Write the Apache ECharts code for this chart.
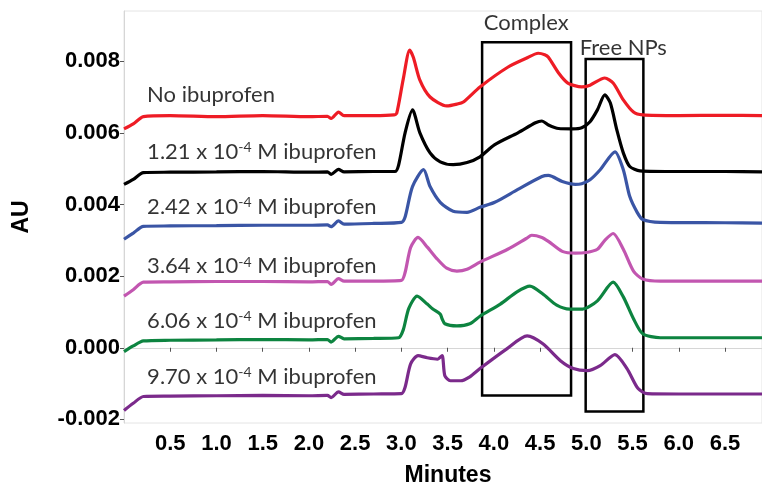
<!DOCTYPE html>
<html>
<head>
<meta charset="utf-8">
<script src="https://cdn.jsdelivr.net/npm/echarts@6/dist/echarts.min.js"></script>
<style>
  html, body { margin: 0; padding: 0; background: #fff; }
  #chart { width: 762px; height: 483px; }
</style>
</head>
<body>
<div id="chart"></div>
<script>
// tick labels
var xTicks = [0.5, 1.0, 1.5, 2.0, 2.5, 3.0, 3.5, 4.0, 4.5, 5.0, 5.5, 6.0, 6.5];
var yTicks = [-0.002, 0.000, 0.002, 0.004, 0.006, 0.008];

// traces: [minutes, AU]
var noIbuprofen = [[0,0.00611],[0.1,0.00625],[0.21,0.00645],[0.5,0.00648],[1.0,0.00645],[1.5,0.00648],[2.0,0.00645],[2.2,0.00646],[2.24,0.0064],[2.32,0.00658],[2.38,0.00648],[2.7,0.00648],[2.92,0.0065],[2.95,0.00655],[3.02,0.0075],[3.09,0.00831],[3.13,0.0081],[3.2,0.00747],[3.31,0.007],[3.49,0.00675],[3.6,0.0068],[3.67,0.00686],[3.85,0.00728],[4.15,0.00783],[4.35,0.00808],[4.48,0.00822],[4.55,0.00818],[4.59,0.00811],[4.7,0.00767],[4.8,0.00739],[4.95,0.00728],[5.04,0.00733],[5.2,0.00753],[5.29,0.00739],[5.4,0.00692],[5.51,0.00658],[5.61,0.0065],[6.0,0.00648],[6.5,0.00649],[6.9,0.00648]];
var ibu121 = [[0,0.00456],[0.1,0.0047],[0.21,0.00489],[0.5,0.0049],[1.0,0.00491],[1.5,0.00492],[2.0,0.0049],[2.2,0.00491],[2.24,0.00484],[2.32,0.00498],[2.38,0.00491],[2.7,0.00492],[2.93,0.00492],[2.97,0.0051],[3.04,0.006],[3.12,0.00664],[3.2,0.006],[3.31,0.00544],[3.42,0.00519],[3.56,0.00511],[3.71,0.00517],[3.85,0.00533],[4.01,0.00567],[4.26,0.006],[4.45,0.00628],[4.52,0.00633],[4.59,0.00622],[4.7,0.00612],[4.85,0.00611],[4.95,0.00614],[5.04,0.00631],[5.12,0.00664],[5.2,0.00706],[5.26,0.00683],[5.33,0.00608],[5.4,0.00544],[5.47,0.00506],[5.58,0.00494],[6.0,0.00492],[6.5,0.00492],[6.9,0.00491]];
var ibu242 = [[0,0.00303],[0.1,0.0032],[0.21,0.00339],[0.5,0.0034],[1.0,0.00341],[1.5,0.00342],[2.0,0.00342],[2.2,0.00343],[2.24,0.00338],[2.32,0.00354],[2.38,0.00345],[2.7,0.00347],[3.0,0.0035],[3.04,0.00365],[3.12,0.0045],[3.24,0.00497],[3.31,0.0045],[3.42,0.00406],[3.56,0.00381],[3.71,0.00378],[3.85,0.00392],[4.01,0.00406],[4.26,0.00442],[4.52,0.00478],[4.59,0.00481],[4.74,0.00464],[4.88,0.00456],[4.95,0.00458],[5.04,0.00469],[5.15,0.00497],[5.31,0.00547],[5.4,0.00497],[5.47,0.00422],[5.55,0.00378],[5.61,0.00358],[5.8,0.0035],[6.5,0.00349],[6.9,0.00348]];
var ibu364 = [[0,0.00144],[0.1,0.00162],[0.21,0.00183],[0.5,0.00184],[1.0,0.00185],[1.5,0.00185],[2.0,0.00184],[2.2,0.00185],[2.24,0.00177],[2.32,0.00193],[2.38,0.00186],[2.7,0.00186],[3.0,0.00188],[3.04,0.0021],[3.1,0.0028],[3.18,0.00308],[3.28,0.00281],[3.39,0.00247],[3.49,0.00222],[3.6,0.00214],[3.71,0.00219],[3.85,0.00239],[4.15,0.00275],[4.35,0.00305],[4.41,0.00314],[4.52,0.00308],[4.59,0.00297],[4.74,0.00269],[4.88,0.00264],[5.0,0.00266],[5.12,0.00275],[5.2,0.003],[5.29,0.00319],[5.4,0.00275],[5.51,0.00214],[5.61,0.00192],[5.8,0.00186],[6.5,0.00186],[6.9,0.00186]];
var ibu606 = [[0,-0.00011],[0.1,0.00005],[0.21,0.00019],[0.5,0.00021],[1.0,0.00022],[1.5,0.00023],[2.0,0.00022],[2.2,0.00023],[2.24,0.00016],[2.32,0.00032],[2.38,0.00025],[2.7,0.00026],[2.97,0.00028],[3.02,0.0005],[3.08,0.0011],[3.17,0.00144],[3.28,0.00122],[3.34,0.00108],[3.42,0.00094],[3.44,0.00081],[3.47,0.00067],[3.6,0.00061],[3.74,0.00067],[3.85,0.00088],[4.07,0.00122],[4.25,0.00156],[4.39,0.00172],[4.53,0.0015],[4.68,0.00119],[4.82,0.00108],[4.96,0.00108],[5.12,0.00131],[5.29,0.00183],[5.4,0.00142],[5.51,0.00081],[5.61,0.00039],[5.8,0.00028],[6.5,0.00028],[6.9,0.00028]];
var ibu970 = [[0,-0.00175],[0.1,-0.00155],[0.21,-0.00136],[0.5,-0.00135],[1.0,-0.00134],[1.5,-0.00133],[2.0,-0.00134],[2.2,-0.00133],[2.24,-0.00139],[2.32,-0.00123],[2.38,-0.0013],[2.7,-0.00129],[3.0,-0.00128],[3.04,-0.0011],[3.1,-0.00045],[3.18,-0.00022],[3.28,-0.00028],[3.39,-0.00032],[3.44,-0.00022],[3.47,-0.00078],[3.53,-0.00092],[3.64,-0.00092],[3.74,-0.00081],[3.85,-0.00058],[4.14,-0.00003],[4.36,0.00033],[4.53,0.00011],[4.72,-0.00036],[4.86,-0.00058],[5.01,-0.00064],[5.15,-0.0005],[5.31,-0.00019],[5.44,-0.00058],[5.56,-0.00114],[5.66,-0.00128],[6.0,-0.00129],[6.5,-0.00129],[6.9,-0.00129]];

var traceNames = ['No ibuprofen', '1.21 x 10{sup|-4} M ibuprofen', '2.42 x 10{sup|-4} M ibuprofen',
                  '3.64 x 10{sup|-4} M ibuprofen', '6.06 x 10{sup|-4} M ibuprofen', '9.70 x 10{sup|-4} M ibuprofen'];
var traceColors = ['#ee1c25', '#000000', '#3a55a5', '#c256b0', '#0d8440', '#7b2a8b'];
// where each trace name sits (minutes, AU)
var nameSpots = [[0.25,0.00706],[0.25,0.00547],[0.25,0.00394],[0.25,0.00228],[0.25,0.00075],[0.25,-0.00081]];

// boxes: [x0, yTop, x1, yBottom]
var complexBox = [3.873, 0.00853, 4.835, -0.00133];
var freeNpBox = [4.993, 0.00806, 5.617, -0.00178];
var boxTitles = ['Complex', 'Free NPs'];
var boxTitleSpots = [[4.35, 0.00908], [5.40, 0.00836]];

var traces = [noIbuprofen, ibu121, ibu242, ibu364, ibu606, ibu970];

var labelFont = 'Lato, "Open Sans", sans-serif';
var axisFont = '"Liberation Sans", Arial, sans-serif';

var series = traces.map(function (d, i) {
    return {
        type: 'line',
        data: d,
        showSymbol: false,
        smooth: 0.25,
        lineStyle: { color: traceColors[i], width: 3.2 },
        z: 2
    };
});

series.push({
    type: 'scatter',
    symbolSize: 0,
    silent: true,
    data: nameSpots.map(function (p, i) { return { value: p, name: traceNames[i] }; }),
    label: {
        show: true,
        position: 'right',
        distance: 0,
        formatter: function (p) { return p.name; },
        color: '#000',
        fontFamily: labelFont,
        fontSize: 22,
        rich: {
            sup: { fontFamily: labelFont, fontSize: 14, color: '#000', verticalAlign: 'top', lineHeight: 16 }
        }
    },
    z: 3
});

series.push({
    type: 'scatter',
    symbolSize: 0,
    silent: true,
    data: boxTitleSpots.map(function (p, i) { return { value: p, name: boxTitles[i] }; }),
    label: {
        show: true,
        position: 'inside',
        formatter: function (p) { return p.name; },
        color: '#000',
        fontFamily: labelFont,
        fontSize: 22
    },
    markArea: {
        silent: true,
        itemStyle: { color: 'rgba(0,0,0,0)', borderColor: '#000', borderWidth: 2.5 },
        data: [
            [{ coord: [complexBox[0], complexBox[1]] }, { coord: [complexBox[2], complexBox[3]] }],
            [{ coord: [freeNpBox[0], freeNpBox[1]] }, { coord: [freeNpBox[2], freeNpBox[3]] }]
        ]
    },
    z: 4
});

var chart = echarts.init(document.getElementById('chart'), null, { renderer: 'canvas' });
chart.setOption({
    animation: false,
    backgroundColor: '#fff',
    grid: {
        left: 124, right: 0, top: 11, bottom: 60,
        show: true, borderColor: '#e4e4e4', borderWidth: 1,
        outerBoundsMode: 'none'
    },
    xAxis: {
        type: 'value',
        min: 0, max: 6.9,
        name: 'Minutes',
        nameLocation: 'middle',
        nameGap: 41,
        nameTextStyle: { fontFamily: axisFont, fontWeight: 'bold', fontSize: 23, color: '#000', padding: [0, 0, 0, 10] },
        axisLine: { show: true, lineStyle: { color: '#d6d6d6', width: 1 } },
        axisTick: { show: true, customValues: xTicks, length: 4, lineStyle: { color: '#555' } },
        axisLabel: {
            customValues: xTicks, margin: 10,
            formatter: function (v) { return v.toFixed(1); },
            fontFamily: axisFont, fontWeight: 'bold', fontSize: 22, color: '#000'
        },
        splitLine: { show: false }
    },
    yAxis: {
        type: 'value',
        min: -0.0021, max: 0.0094,
        name: 'AU',
        nameLocation: 'middle',
        nameGap: 91,
        nameTextStyle: { fontFamily: axisFont, fontWeight: 'bold', fontSize: 23, color: '#000' },
        axisLine: { show: true, lineStyle: { color: '#d6d6d6', width: 1 } },
        axisTick: { show: true, customValues: yTicks, length: 4, lineStyle: { color: '#555' } },
        axisLabel: {
            customValues: yTicks, margin: 4,
            formatter: function (v) { return v.toFixed(3); },
            fontFamily: axisFont, fontWeight: 'bold', fontSize: 22, color: '#000'
        },
        splitLine: { show: false }
    },
    series: series
});
</script>
</body>
</html>
